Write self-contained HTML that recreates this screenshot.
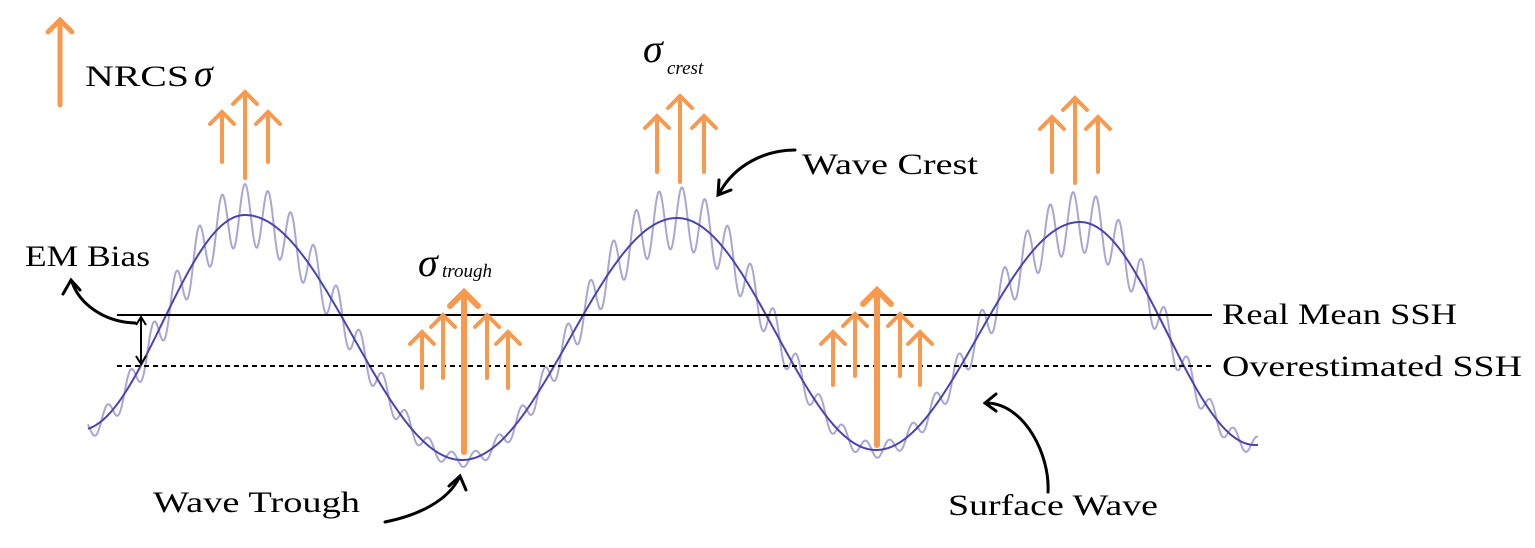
<!DOCTYPE html>
<html><head><meta charset="utf-8"><style>
html,body{margin:0;padding:0;background:#fff;}
svg{display:block;}
text{font-family:"Liberation Serif",serif;fill:#000;}
</style></head><body>
<svg id="s" width="1535" height="548" viewBox="0 0 1535 548" xmlns="http://www.w3.org/2000/svg">
<g id="waves"></g>
<line x1="117" y1="315" x2="1212" y2="315" stroke="#000" stroke-width="2"/>
<line x1="117" y1="366" x2="1212" y2="366" stroke="#000" stroke-width="2" stroke-dasharray="5,4"/>
<g id="arrows" stroke="#f79a50" fill="none" stroke-linecap="round" stroke-linejoin="miter"></g>
<g stroke="#000" stroke-width="2" fill="none">
<line x1="141" y1="318" x2="141" y2="363"/>
<polyline points="136,325 141,317 146,325"/>
<polyline points="136,356 141,364 146,356"/>
</g>
<g stroke="#000" stroke-width="3" fill="none" stroke-linecap="round">
<path d="M135,323 C105,322 80,305 72,282"/>
<polyline points="63,294 71,280 80,290"/>
<path d="M385,522 C420,515 448,500 459,478"/>
<polyline points="449,486 460,476 466,490"/>
<path d="M1048,492 C1050,455 1025,405 988,403"/>
<polyline points="996,394 985,403 996,411"/>
<path d="M795,150 C765,150 735,165 720,192"/>
<polyline points="719,180 718,195 731,190"/>
</g>
<text x="85" y="86" font-size="30" textLength="104" lengthAdjust="spacingAndGlyphs">NRCS</text>
<text x="194" y="86" font-size="38" font-style="italic">σ</text>
<text x="25" y="266" font-size="30" textLength="125" lengthAdjust="spacingAndGlyphs">EM Bias</text>
<text x="418" y="276" font-size="40" font-style="italic">σ</text>
<text x="442" y="277" font-size="19" font-style="italic">trough</text>
<text x="643" y="62" font-size="40" font-style="italic">σ</text>
<text x="667" y="74" font-size="19" font-style="italic">crest</text>
<text x="802" y="174" font-size="30" textLength="176" lengthAdjust="spacingAndGlyphs">Wave Crest</text>
<text x="1222" y="324" font-size="30" textLength="235" lengthAdjust="spacingAndGlyphs">Real Mean SSH</text>
<text x="1222" y="376" font-size="30" textLength="300" lengthAdjust="spacingAndGlyphs">Overestimated SSH</text>
<text x="153" y="512" font-size="30" textLength="207" lengthAdjust="spacingAndGlyphs">Wave Trough</text>
<text x="948" y="515" font-size="30" textLength="210" lengthAdjust="spacingAndGlyphs">Surface Wave</text>
</svg>
<script>
(function(){
var kp=[[80,430],[245,215],[462,460],[677,218],[876,450],[1080,222],[1255,445]];
function base(x){
 for(var i=0;i<kp.length-1;i++){var a=kp[i],b=kp[i+1];
  if(x>=a[0]&&x<=b[0]){var t=(x-a[0])/(b[0]-a[0]);return a[1]+(b[1]-a[1])*(1-Math.cos(Math.PI*t))/2;}}
 return kp[kp.length-1][1];}
var p1="",p2="";
for(var x=88;x<=1258;x+=0.5){
 var y=base(x); var c=(338-y)/120; if(c>1)c=1; if(c<-1)c=-1;
 var A=19+12*c;
 var r=y-A*Math.cos(2*Math.PI*(x-245)/23);
 p1+=(x==88?"M":"L")+x.toFixed(1)+","+y.toFixed(1);
 p2+=(x==88?"M":"L")+x.toFixed(1)+","+r.toFixed(1);
}
var g=document.getElementById("waves");
g.innerHTML='<path d="'+p2+'" stroke="#a9a7d2" stroke-width="2" fill="none"/>'+
 '<path d="'+p1+'" stroke="#4a44b0" stroke-width="2" fill="none"/>';
var arr=[
 [60,105,20,5],
 [245,178,92,4],[222,162,112,4],[268,162,112,4],
 [680,182,96,4],[657,172,116,4],[704,172,116,4],
 [1075,183,98,4],[1052,172,117,4],[1098,172,117,4],
 [464,452,292,6],[443,378,315,4],[487,378,315,4],[422,388,332,4],[508,388,332,4],
 [877,445,290,6],[855,376,314,4],[900,376,314,4],[833,385,332,4],[920,385,332,4]
];
var h="";
arr.forEach(function(a){var x=a[0],y1=a[1],y2=a[2],w=a[3],s=w==6?14:12;
 h+='<line x1="'+x+'" y1="'+y1+'" x2="'+x+'" y2="'+(y2+1)+'" stroke-width="'+w+'"/>';
 h+='<polyline points="'+(x-s)+','+(y2+s)+' '+x+','+y2+' '+(x+s)+','+(y2+s)+'" stroke-width="'+w+'"/>';});
document.getElementById("arrows").innerHTML=h;
})();
</script>
</body></html>
